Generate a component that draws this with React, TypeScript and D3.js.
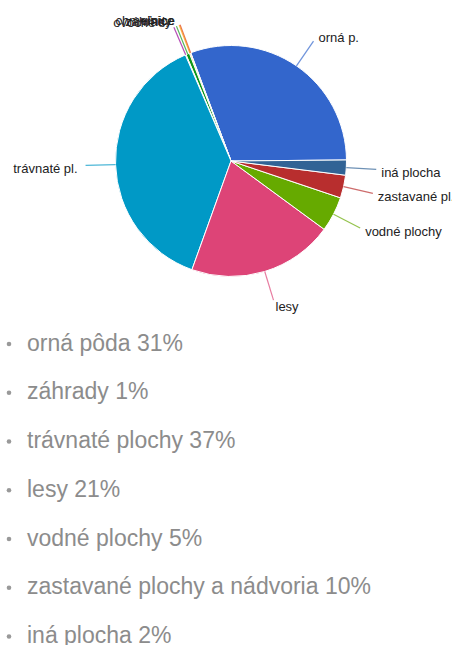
import * as d3 from "d3";
import { useEffect, useRef } from "react";

// pie slices, counter-clockwise from "orná p."
const sliceLabels = [
  "orná p.",
  "chmeľnice",
  "vinice",
  "záhrady",
  "ovocné s.",
  "trávnaté pl.",
  "lesy",
  "vodné plochy",
  "zastavané pl.",
  "iná plocha",
];
const sliceValues = [30.5, 0.05, 0.15, 0.5, 0.1, 38.0, 20.4, 4.9, 3.2, 2.1];
const sliceColors = [
  "#3366cc", "#dc3912", "#ff9900", "#109618", "#990099",
  "#0099c6", "#dd4477", "#66aa00", "#b82e2e", "#316395",
];

// bullet list under the chart
const listNames = [
  "orná pôda",
  "záhrady",
  "trávnaté plochy",
  "lesy",
  "vodné plochy",
  "zastavané plochy a nádvoria",
  "iná plocha",
];
const listPercents = [31, 1, 37, 21, 5, 10, 2];

interface Slice {
  label: string;
  value: number;
  color: string;
}

const slices: Slice[] = sliceLabels.map((label, i) => ({
  label,
  value: sliceValues[i],
  color: sliceColors[i],
}));

const W = 452;
const H = 645;
const FONT = "'Liberation Sans', Arial, sans-serif";

export default function App() {
  const ref = useRef<SVGSVGElement>(null);

  useEffect(() => {
    const svg = d3.select(ref.current);
    svg.selectAll("*").remove();

    const cx = 231;
    const cy = 161;
    const radius = 115.5;
    const start = (89.5 * Math.PI) / 180;

    const pie = d3
      .pie<Slice>()
      .sort(null)
      .value((d) => d.value)
      .startAngle(start)
      .endAngle(start - 2 * Math.PI);

    const arc = d3.arc<d3.PieArcDatum<Slice>>().innerRadius(0).outerRadius(radius);
    const arcs = pie(slices);

    const g = svg.append("g").attr("transform", `translate(${cx},${cy})`);

    g.selectAll("path")
      .data(arcs)
      .join("path")
      .attr("d", arc)
      .attr("fill", (d) => d.data.color)
      .attr("stroke", "#fff")
      .attr("stroke-width", 1);

    const point = (a: number, r: number) => [r * Math.sin(a), -r * Math.cos(a)];
    const mid = (d: d3.PieArcDatum<Slice>) => (d.startAngle + d.endAngle) / 2;

    // leader lines
    g.selectAll("line")
      .data(arcs)
      .join("line")
      .attr("x1", (d) => point(mid(d), radius)[0])
      .attr("y1", (d) => point(mid(d), radius)[1])
      .attr("x2", (d) => point(mid(d), radius + 30)[0])
      .attr("y2", (d) => point(mid(d), radius + 30)[1])
      .attr("stroke", (d) => d.data.color)
      .attr("stroke-opacity", 0.7)
      .attr("stroke-width", 1.2);

    // labels
    g.selectAll("text")
      .data(arcs)
      .join("text")
      .attr("font-family", FONT)
      .attr("font-size", 13)
      .attr("fill", "#222")
      .each(function (d) {
        const a = mid(d);
        const [x, y] = point(a, radius + 30);
        const s = Math.sin(a);
        const c = Math.cos(a);
        const dy = c > 0 ? 7 - 8 * c : 7 - 3 * c;
        const t = d3.select(this);
        if (c < -0.9) {
          t.attr("x", x + 2).attr("y", y + 11).attr("text-anchor", "start");
        } else if (c > 0.9) {
          t.attr("x", x - 5).attr("y", y).attr("text-anchor", "end");
        } else if (s > 0) {
          t.attr("x", x + 5).attr("y", y + dy).attr("text-anchor", "start");
        } else {
          t.attr("x", x - 8).attr("y", y + dy).attr("text-anchor", "end");
        }
      })
      .text((d) => d.data.label);

    // list
    const yScale = d3
      .scaleLinear()
      .domain([0, listNames.length - 1])
      .range([350.5, 643]);

    const list = svg.append("g");
    const items = list
      .selectAll("g")
      .data(listNames)
      .join("g")
      .attr("transform", (_, i) => `translate(0,${yScale(i)})`);

    items
      .append("circle")
      .attr("cx", 9)
      .attr("cy", -6.5)
      .attr("r", 2.3)
      .attr("fill", "#999");

    items
      .append("text")
      .attr("x", 27)
      .attr("font-family", FONT)
      .attr("font-size", 23)
      .attr("fill", "#8c8c8c")
      .text((d, i) => `${d} ${listPercents[i]}%`);
  }, []);

  return (
    <div style={{ position: "absolute", left: 0, top: 0, width: W, height: H, background: "#fff" }}>
      <svg ref={ref} width={W} height={H} style={{ display: "block" }} />
    </div>
  );
}
